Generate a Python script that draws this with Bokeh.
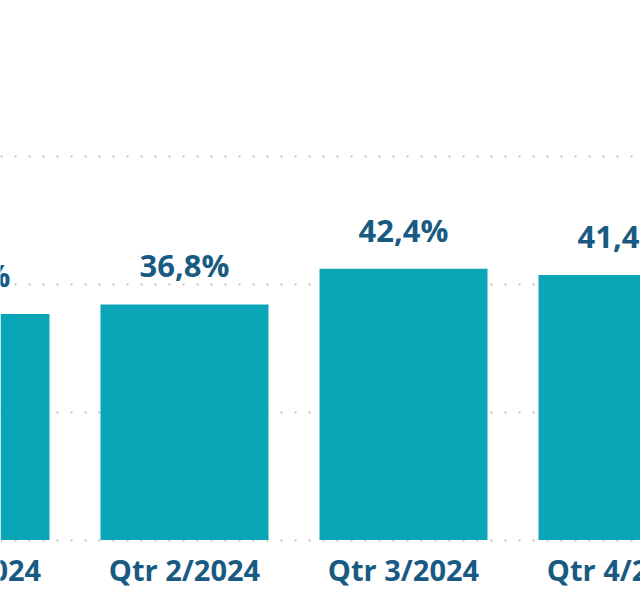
from bokeh.plotting import figure
from bokeh.models import FixedTicker, Range1d, ColumnDataSource
from bokeh.embed import file_html
from bokeh.resources import INLINE
from bokeh.core.properties import value

categories = ["Qtr 1/2024", "Qtr 2/2024", "Qtr 3/2024", "Qtr 4/2024"]
values = [35.3, 36.8, 42.4, 41.4]
grid_ticks = [0, 20, 40, 60]

BAR = "#0AA6B8"
TXT = "#185A82"
FONT = "Open Sans"

xs = list(range(len(categories)))
labels = [f"{v:.1f}".replace(".", ",") + "%" for v in values]
src = ColumnDataSource(dict(x=xs, v=values, lab=labels, cat=categories, zero=[0] * len(xs)))

p = figure(width=640, height=600, output_backend="svg", toolbar_location=None,
           x_range=Range1d(35 / 219, 675 / 219), y_range=Range1d(-60.5 / 6.4, 539.5 / 6.4),
           min_border_left=0, min_border_right=0, min_border_top=0, min_border_bottom=0)
p.outline_line_color = None
p.background_fill_color = "white"

p.vbar(x="x", top="v", bottom=0, width=168 / 219, source=src, fill_color=BAR, line_color=None)
p.text(x="x", y="v", text="lab", source=src, text_align="center", text_baseline="alphabetic",
       y_offset=-39, text_font=value(FONT), text_font_style="bold", text_font_size="31px",
       text_color=TXT)
p.text(x="x", y="zero", text="cat", source=src, text_align="center", text_baseline="alphabetic",
       y_offset=29, text_font=value(FONT), text_font_style="bold", text_font_size="29px",
       text_color=TXT)

p.xaxis.visible = False
p.yaxis.visible = False
p.xgrid.visible = False
p.ygrid.ticker = FixedTicker(ticks=grid_ticks)
p.ygrid.grid_line_color = "#C4C4C4"
p.ygrid.grid_line_width = 2
p.ygrid.grid_line_dash = "2 12"

open("out.html", "w").write(file_html(p, INLINE))
